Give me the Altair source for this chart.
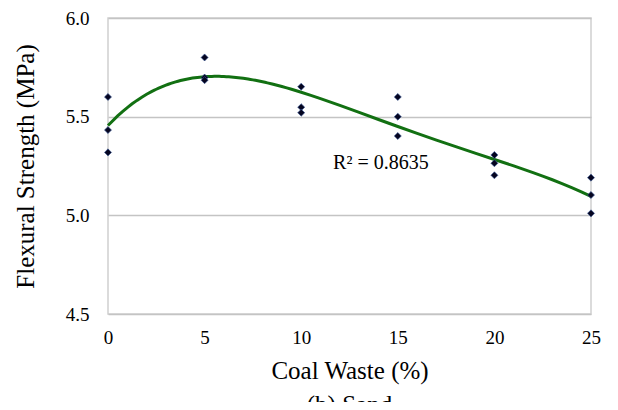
import altair as alt
import pandas as pd

coal_waste = [0, 0, 0, 5, 5, 5, 10, 10, 10, 15, 15, 15, 20, 20, 20, 25, 25, 25]
flexural = [5.60, 5.432, 5.319, 5.80, 5.698, 5.685, 5.652, 5.548, 5.52,
            5.60, 5.50, 5.402, 5.306, 5.264, 5.203, 5.191, 5.103, 5.01]
x_ticks = [0, 5, 10, 15, 20, 25]
y_ticks = [4.5, 5.0, 5.5, 6.0]
r2_label = ["R² = 0.8635"]
r2_pos_x = [11.65]
r2_pos_y = [5.266]

df = pd.DataFrame({"x": coal_waste, "y": flexural})
lab = pd.DataFrame({"x": r2_pos_x, "y": r2_pos_y, "t": r2_label})

FONT = "Liberation Serif"

xs = alt.Scale(domain=[0, 25], nice=False, zero=False)
ys = alt.Scale(domain=[4.5, 6.0], nice=False, zero=False)

xaxis = alt.Axis(values=x_ticks, title="Coal Waste (%)", grid=False, ticks=False,
                 domain=False, labelFlush=False, labelFont=FONT, labelFontSize=19,
                 labelColor="#000", labelPadding=14, titleFont=FONT, titleFontSize=25,
                 titleFontWeight="normal", titleColor="#000", titlePadding=11)
yaxis = alt.Axis(values=y_ticks, title="Flexural Strength (MPa)", grid=True,
                 gridColor="#c4c4c4", gridWidth=1.5, ticks=False, domain=False,
                 labelFlush=False, format=".1f", labelFont=FONT, labelFontSize=19,
                 labelColor="#000", labelPadding=19, titleFont=FONT, titleFontSize=25,
                 titleFontWeight="normal", titleColor="#000", titlePadding=27)

base = alt.Chart(df)

trend = base.transform_regression("x", "y", method="poly", order=4, extent=[0, 25]).mark_line(
    color="#127012", strokeWidth=3
).encode(x=alt.X("x:Q", scale=xs, axis=xaxis), y=alt.Y("y:Q", scale=ys, axis=yaxis))

pts = base.mark_point(shape="diamond", filled=True, size=50, color="#050520", opacity=1,
                      stroke="#3a5a9a", strokeWidth=0.6).encode(
    x=alt.X("x:Q", scale=xs), y=alt.Y("y:Q", scale=ys))

txt = alt.Chart(lab).mark_text(align="left", baseline="middle", font=FONT, fontSize=20,
                               color="#000").encode(
    x=alt.X("x:Q", scale=xs), y=alt.Y("y:Q", scale=ys), text="t:N")

chart = alt.layer(trend, pts, txt).properties(
    width=483, height=296,
    autosize=alt.AutoSizeParams(type="none"),
    padding={"left": 100, "top": 10, "right": 19, "bottom": 88},
    title=alt.TitleParams("(b) Sand", orient="bottom", font=FONT, fontSize=25,
                          fontWeight="normal", color="#000", offset=10),
).configure(background="white", font=FONT).configure_view(stroke="#d0d0d0", strokeWidth=1.5)

chart.save("out.html", embed_options={"renderer": "svg", "actions": False})
